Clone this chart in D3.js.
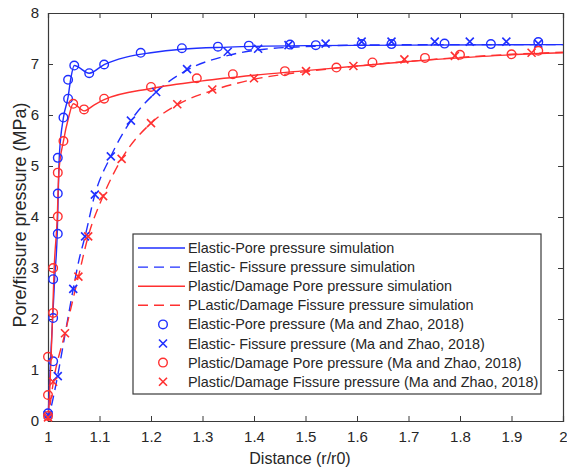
<!DOCTYPE html>
<html>
<head>
<meta charset="utf-8">
<script src="https://cdn.jsdelivr.net/npm/d3@7"></script>
<style>
  body { margin: 0; background: #fff; }
  svg { display: block; font-family: "Liberation Sans", Arial, sans-serif; }
  .axis path, .axis line { stroke: #3a3a3a; }
  .axis text { fill: #262626; font-size: 15px; }
</style>
</head>
<body>
<svg id="chart" width="567" height="471"></svg>
<script>
// Simulation curves [distance, pressure]
const elasticPoreSim = [[1.0,0],[1.004,1.0],[1.009,2.0],[1.013,2.8],[1.018,3.7],[1.02,4.5],[1.022,5.2],[1.03,5.95],[1.039,6.35],[1.044,6.7],[1.051,6.97],[1.08,6.82],[1.109,6.99],[1.15,7.13],[1.2,7.22],[1.26,7.29],[1.35,7.33],[1.5,7.36],[1.7,7.37],[2.0,7.38]];
const elasticFissureSim = [[1.0,0],[1.01,0.45],[1.019,0.9],[1.034,1.75],[1.049,2.59],[1.06,3.15],[1.072,3.62],[1.091,4.44],[1.122,5.19],[1.161,5.89],[1.21,6.45],[1.27,6.88],[1.35,7.17],[1.42,7.29],[1.5,7.34],[1.6,7.37],[1.8,7.38],[2.0,7.38]];
const plasticPoreSim = [[1.0,0],[1.003,0.5],[1.006,1.26],[1.009,2.1],[1.012,3.0],[1.018,4.0],[1.021,4.87],[1.03,5.49],[1.04,5.95],[1.049,6.22],[1.07,6.08],[1.09,6.2],[1.109,6.3],[1.2,6.52],[1.3,6.67],[1.4,6.78],[1.5,6.87],[1.6,6.96],[1.7,7.05],[1.8,7.12],[1.9,7.18],[2.0,7.22]];
const plasticFissureSim = [[1.0,0],[1.01,0.74],[1.033,1.72],[1.059,2.83],[1.078,3.62],[1.107,4.41],[1.143,5.14],[1.2,5.84],[1.251,6.2],[1.319,6.48],[1.4,6.7],[1.5,6.85],[1.6,6.96],[1.7,7.05],[1.8,7.13],[1.9,7.19],[2.0,7.23]];

// Reference data (Ma and Zhao, 2018)
const elasticPoreRef = [[1.0,0.15],[1.01,1.17],[1.01,2.02],[1.01,2.78],[1.019,3.67],[1.019,4.46],[1.019,5.16],[1.03,5.95],[1.039,6.32],[1.039,6.69],[1.051,6.97],[1.08,6.82],[1.109,6.99],[1.18,7.22],[1.26,7.31],[1.33,7.34],[1.39,7.36],[1.47,7.38],[1.52,7.37],[1.609,7.39],[1.667,7.39],[1.77,7.40],[1.86,7.39],[1.952,7.43]];
const elasticFissureRef = [[1.0,0.12],[1.019,0.88],[1.049,2.59],[1.072,3.62],[1.091,4.44],[1.122,5.19],[1.161,5.89],[1.21,6.45],[1.27,6.9],[1.349,7.24],[1.408,7.30],[1.467,7.37],[1.539,7.40],[1.609,7.44],[1.667,7.44],[1.751,7.44],[1.819,7.44],[1.89,7.44],[1.952,7.40]];
const plasticPoreRef = [[1.0,0.1],[1.0,0.51],[1.0,1.26],[1.01,2.12],[1.01,3.0],[1.019,4.01],[1.019,4.87],[1.03,5.49],[1.049,6.22],[1.07,6.11],[1.109,6.32],[1.2,6.55],[1.289,6.72],[1.359,6.8],[1.46,6.86],[1.56,6.93],[1.63,7.03],[1.732,7.12],[1.80,7.18],[1.90,7.19],[1.952,7.26]];
const plasticFissureRef = [[1.0,0.07],[1.01,0.77],[1.033,1.72],[1.059,2.83],[1.078,3.62],[1.107,4.41],[1.143,5.14],[1.2,5.84],[1.251,6.21],[1.319,6.5],[1.40,6.72],[1.501,6.86],[1.593,6.96],[1.692,7.09],[1.79,7.16],[1.939,7.22]];

const xTicks = [1, 1.1, 1.2, 1.3, 1.4, 1.5, 1.6, 1.7, 1.8, 1.9, 2];
const yTicks = [0, 1, 2, 3, 4, 5, 6, 7, 8];

const blue = "#1f2fff";
const red = "#ff3030";

const series = [
  { name: "Elastic-Pore pressure simulation", data: elasticPoreSim, color: blue, dash: null, type: "line" },
  { name: "Elastic- Fissure pressure simulation", data: elasticFissureSim, color: blue, dash: "10,6", type: "line" },
  { name: "Plastic/Damage Pore pressure simulation", data: plasticPoreSim, color: red, dash: null, type: "line" },
  { name: "PLastic/Damage Fissure pressure simulation", data: plasticFissureSim, color: red, dash: "10,6", type: "line" },
  { name: "Elastic-Pore pressure (Ma and Zhao, 2018)", data: elasticPoreRef, color: blue, type: "circle" },
  { name: "Elastic- Fissure pressure (Ma and Zhao, 2018)", data: elasticFissureRef, color: blue, type: "cross" },
  { name: "Plastic/Damage Pore pressure (Ma and Zhao, 2018)", data: plasticPoreRef, color: red, type: "circle" },
  { name: "Plastic/Damage Fissure pressure (Ma and Zhao, 2018)", data: plasticFissureRef, color: red, type: "cross" }
];

const svg = d3.select("#chart");
const margin = { top: 13, right: 4, bottom: 50, left: 48 };
const width = 567, height = 471;
const innerW = width - margin.left - margin.right;
const innerH = height - margin.top - margin.bottom;

const x = d3.scaleLinear().domain([1, 2]).range([0, innerW]);
const y = d3.scaleLinear().domain([0, 8]).range([innerH, 0]);

const g = svg.append("g").attr("transform", `translate(${margin.left},${margin.top})`);

// axes (MATLAB-style box with inward ticks)
const tk = 5;
g.append("g").attr("class", "axis")
  .attr("transform", `translate(0,${innerH})`)
  .call(d3.axisBottom(x).tickValues(xTicks).tickSize(-tk).tickPadding(10).tickFormat(d3.format("")))
  .call(a => a.select(".domain").attr("stroke-width", 1.2));
g.append("g").attr("class", "axis")
  .call(d3.axisTop(x).tickValues(xTicks).tickSize(-tk).tickFormat(""))
  .call(a => a.select(".domain").attr("stroke-width", 1.2));
g.append("g").attr("class", "axis")
  .call(d3.axisLeft(y).tickValues(yTicks).tickSize(-tk).tickPadding(9))
  .call(a => a.select(".domain").attr("stroke-width", 1.2));
g.append("g").attr("class", "axis")
  .attr("transform", `translate(${innerW},0)`)
  .call(d3.axisRight(y).tickValues(yTicks).tickSize(-tk).tickFormat(""))
  .call(a => a.select(".domain").attr("stroke-width", 1.2));

// axis labels
svg.append("text")
  .attr("x", 300).attr("y", 464)
  .attr("text-anchor", "middle").attr("font-size", 16).attr("fill", "#262626")
  .text("Distance (r/r0)");
svg.append("text")
  .attr("transform", `translate(26,215) rotate(-90)`)
  .attr("text-anchor", "middle").attr("font-size", 18).attr("fill", "#262626")
  .text("Pore/fissure pressure (MPa)");

const line = d3.line().x(d => x(d[0])).y(d => y(d[1])).curve(d3.curveMonotoneX);

function drawMarker(sel, type, color) {
  if (type === "circle") {
    sel.append("circle").attr("r", 4.3).attr("fill", "none")
      .attr("stroke", color).attr("stroke-width", 1.4);
  } else {
    const s = 4;
    sel.append("path").attr("d", `M${-s},${-s}L${s},${s}M${-s},${s}L${s},${-s}`)
      .attr("stroke", color).attr("stroke-width", 1.6).attr("fill", "none");
  }
}

series.filter(s => s.type === "line").forEach(s => {
  g.append("path").datum(s.data)
    .attr("d", line)
    .attr("fill", "none")
    .attr("stroke", s.color)
    .attr("stroke-width", 1.4)
    .attr("stroke-dasharray", s.dash);
});

series.filter(s => s.type !== "line").forEach(s => {
  g.append("g").selectAll("g")
    .data(s.data)
    .join("g")
    .attr("transform", d => `translate(${x(d[0])},${y(d[1])})`)
    .each(function() { drawMarker(d3.select(this), s.type, s.color); });
});

// legend
const lg = svg.append("g").attr("transform", "translate(133,234)");
lg.append("rect").attr("width", 408).attr("height", 160)
  .attr("fill", "#fff").attr("stroke", "#3a3a3a").attr("stroke-width", 1.2);
const rowH = 19.1;
series.forEach((s, i) => {
  const row = lg.append("g").attr("transform", `translate(0,${14 + i * rowH})`);
  if (s.type === "line") {
    row.append("line").attr("x1", 5).attr("x2", 52).attr("y1", 0).attr("y2", 0)
      .attr("stroke", s.color).attr("stroke-width", 1.4).attr("stroke-dasharray", s.dash);
  } else {
    drawMarker(row.append("g").attr("transform", "translate(30,0)"), s.type, s.color);
  }
  row.append("text").attr("x", 55).attr("y", 5)
    .attr("font-size", 14.4).attr("fill", "#262626").text(s.name);
});
</script>
</body>
</html>
